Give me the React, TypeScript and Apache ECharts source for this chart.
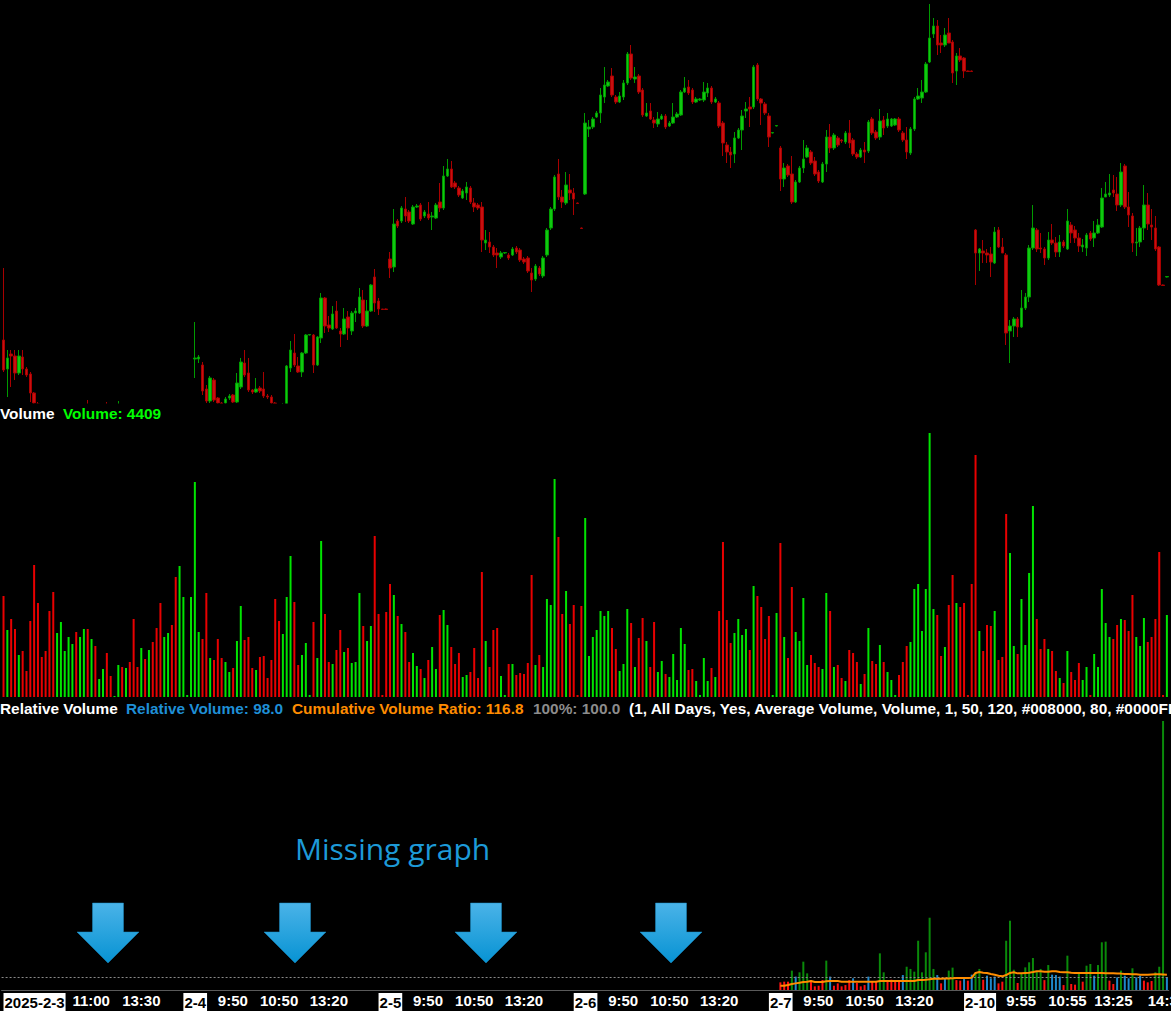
import React, { useEffect, useRef } from "react";
import * as echarts from "echarts";

// ---- price candles [open, close, low, high] (pane units), one per 5-min bar ----
const candles: number[][] = [
  [63,33,31,135],[34,45,6,53],[49,47,16,53],[47,30,23,53],[30,47,28,53],[46,34,28,53],[34,28,26,36],[29,10,1,31],[10,0,-3,11],
  [-1,-10,-14,1],[-10,-15,-18,-8],[-15,-20,-24,-13],[-20,-30,-33,-18],[-30,-42,-46,-28],[-42,-34,-45,-32],[-34,-25,-36,-23],[-25,-20,-27,-18],[-20,-14,-22,-12],[-14,-9,-16,-7],
  [-9,-15,-17,-7],[-15,-10,-17,-8],[-10,-5,-12,-3],[-5,-12,-14,3],[-12,-8,-14,-6],[-8,-14,-16,-6],[-14,-12,-15,-10],[-12,-8,-13,-5],[-5,-10,-12,1],[-10,-13,-15,-8],
  [-13,-12,-13,-11],[-12,-4,-13,2],[-4,-9,-11,-3],[-9,-6,-10,-4],[-6,-10,-12,-5],[-10,-20,-22,-8],[-20,-24,-26,-18],[-24,-18,-25,-16],[-18,-22,-24,-16],[-22,-16,-23,-14],
  [-16,-22,-24,-14],[-22,-30,-32,-20],[-30,-40,-43,-28],[-40,-34,-41,-32],[-34,-28,-35,-26],[-28,-35,-38,-26],[-35,-48,-52,-33],[-48,-36,-50,-34],[-36,-30,-38,-28],[-30,-29.5,-30.5,-29],
  [-29,-5,-30,-3],
  [44,45,25,81],[44,46,40,48],[38,12,8,41],[14,2,0,18],[2,25,0,27],[23,3,1,25],[5,0,-2,6],[0,-3,-5,1],[0,4,-1,6],[5,7,3,9],
  [8,1,0,9],[1,20,0,30],[16,41,14,45],[40,28,26,53],[30,13,11,45],[13,11,9,14],[11,14,10,25],[15,12,10,17],[14,7,5,31],[7,6,4,9],
  [6,0,-2,8],[0,-10,-14,1],[-10,-16,-20,-8],[-16,-2,-18,0],[-4,37,-5,38],[35,53,31,62],[50,38,36,69],[37,31,30,46],[31,50,26,51],[50,68,49,69],
  [68,68.5,67.5,69],[68,38,30,69],[38,66,37,67],[65,105,60,110],[105,77,70,106],[78,75,71,87],[74,89,73,97],[92,75,74,102],[72,69,56,75],[69,84,68,95],
  [86,75,63,92],[72,90,68,92],[90,92,81,95],[90,106,89,115],[103,77,75,113],[77,92,76,103],[92,118,91,119],[126,100,91,134],[102,94,88,105],[94,93.5,93.5,94],
  [94,93.5,93,94.5],[144,135,125,151],[136,179,131,194],[182,177,175,184],[182,195,180,197],[194,187,181,206],[191,182,180,193],[179,196,178,198],[196,197,195,199],[198,184,182,200],
  [187,191,185,193],[189,185,183,201],[186,187,173,191],[185,198,184,200],[201,195,191,220],[195,227,193,237],[227,234,226,244],[234,216,215,242],[220,216,214,222],[215,208,206,217],
  [205,212,204,214],[210,216,203,221],[215,201,199,217],[200,196,191,205],[198,195,193,200],[196,163,151,201],[160,163,153,173],[161,156,150,171],[156,148,146,158],[150,148,135,155],
  [146,150,144,152],[150,150.5,149,151],[148,145,143,150],[148,154,147,156],[155,151,149,157],[153,143,141,155],[144,141,139,146],[145,132,130,147],[130,123,111,135],[124,137,122,139],
  [135,129,127,137],[127,145,125,147],[148,173,146,175],[175,194,173,196],[194,226,192,228],[229,206,203,244],[206,201,195,213],[200,218,198,231],[213,210,203,229],[210,204,188,215],
  [200,199.5,199,200.5],[175,174.5,174,175.5],[209,280,208,290],[274,276,266,283],[276,284,274,286],[286,290,285,292],[290,308,280,315],[306,318,300,336],[317,321,316,323],[327,308,306,335],
  [306,301,299,308],[301,307,300,311],[306,320,303,323],[320,349,318,351],[349,325,323,358],[324,326,320,336],[327,311,309,329],[313,288,286,315],[287,290,286,300],[292,284,283,300],
  [283,280,275,286],[279,284,276,291],[284,287,283,289],[287,276,274,289],[277,280,276,282],[280,286,279,300],[286,289,285,291],[288,311,287,313],[311,315,310,326],[316,310,308,323],
  [313,301,299,315],[301,304,300,306],[303,304,302,305],[303,311,301,321],[310,315,306,320],[315,301,299,317],[301,304,300,306],[300,277,275,302],[280,260,247,282],[258,251,240,261],
  [251,248,235,256],[249,265,240,271],[265,273,264,275],[273,287,253,293],[292,294,285,301],[296,294,276,306],[296,336,294,338],[338,304,302,340],[304,300,278,305],[299,290,288,301],
  [287,266,256,290],[270,270.5,269.5,271],[277,277.5,276.5,278],[255,224,212,257],[224,235,216,240],[237,228,226,239],[229,201,199,247],[201,221,200,223],[221,235,220,237],[235,244,230,263],
  [246,255,245,258],[251,240,238,253],[242,229,227,246],[231,222,220,233],[221,239,220,241],[239,266,231,273],[266,255,250,279],[255,268,253,270],[265,258,256,267],[263,262,260,264],
  [261,270,259,272],[270,260,255,283],[263,249,247,265],[249,246,244,251],[246,253,245,255],[253,251,240,261],[252,281,250,283],[284,270,268,286],[271,265,263,273],[266,282,263,294],
  [283,275,268,287],[277,284,275,290],[277,284,276,285],[278,284,277,285],[284,273,271,286],[270,263,261,272],[263,251,244,276],[250,274,248,276],[274,304,272,306],[304,307,303,315],
  [305,311,300,323],[311,339,310,341],[341,365,340,399],[369,377,365,385],[377,358,348,383],[360,358,350,368],[358,368,356,375],[370,360,360,385],[361,330,320,363],[332,347,318,350],
  [347,343,341,355],[345,332,325,346],[332,331.5,331,332.5],[332,331.5,331,332.5],[173,150,118,174],[150,154,132,155],[152,150,140,163],[150,148,140,154],[149,141,126,156],[140,171,139,176],
  [173,156,155,176],[156,150,150,165],[148,70,58,150],[72,77,40,83],[77,84,66,86],[84,76,66,86],[76,95,75,113],[95,106,93,110],[106,155,101,158],[155,175,153,198],
  [173,154,151,175],[155,154,150,170],[154,145,138,156],[145,163,143,171],[163,160,158,179],[160,151,146,166],[151,161,146,168],[161,157,155,163],[154,182,153,194],[178,170,160,181],
  [173,165,160,177],[165,157,151,170],[156,158,151,164],[155,168,147,170],[170,164,162,172],[165,170,156,182],[170,178,169,184],[176,205,175,215],[206,209,206,221],[208,210,206,229],
  [213,210,206,228],[209,198,192,226],[198,231,196,240],[237,196,194,239],[196,188,176,211],[187,160,151,190],[160,161,147,175],[161,175,156,177],[175,198,163,218],[198,179,173,210],
  [178,176,163,194],[175,154,152,187],[156,118,117,157],[118,117.5,117,118.5],[126,126.5,125.5,127],
];

// ---- volume per bar ----
const volumes: number[] = [
  101,67,78,68,42,46,26,76,132,94, 40,46,86,105,64,75,46,60,53,65, 60,68,68,58,51,18,28,44,21,1, 32,30,29,35,78,30,49,38,47,55, 69,94,60,64,72,120,131,100,2,100,
  215,65,58,104,39,37,58,39,35,25, 29,56,91,57,60,29,27,40,41,19, 37,98,76,63,100,141,95,32,42,54, 2,75,39,156,83,35,33,47,67,45, 49,34,35,104,71,56,71,161,83,2,
  85,113,102,81,73,65,35,44,31,28, 19,37,50,28,82,87,72,50,33,44, 20,22,25,49,19,125,56,30,67,69, 21,2,33,33,22,24,23,34,122,32, 42,30,98,92,218,160,83,106,73,92,
  2,91,179,41,60,67,86,81,86,69, 48,26,33,88,74,30,59,79,56,30, 75,25,36,23,20,43,17,69,53,27, 28,16,2,39,16,29,20,86,155,77, 54,64,78,62,68,47,111,101,90,58,
  81,2,84,154,60,39,110,65,56,99, 32,42,34,30,28,104,86,30,32,19, 16,47,44,35,13,23,69,36,33,52, 35,25,17,2,22,35,51,55,108,113, 66,108,264,88,82,41,50,92,122,94,
  90,94,2,113,242,66,46,72,71,86, 37,40,183,144,51,43,98,52,124,191, 78,48,58,48,46,26,19,14,46,25, 17,34,17,30,2,43,30,108,74,60, 58,72,78,77,66,102,60,51,79,55,
  60,78,145,2,82,
];

// ---- relative volume (%) and cumulative volume ratio (%), from bar REL_START ----
const REL_START = 203;
const relVolume: number[] = [
  59,64,64,149,103,136,218,128,72,28, 33,77,226,103,33,51,28,38,76,90, 54,28,38,103,64,64,282,136,64,79,
  69,64,115,179,162,141,379,136,290,556, 162,115,51,85,149,172,76,72,97,72, 118,136,162,79,110,90,103,51,64,379,
  533,156,54,125,174,213,246,144,162,76, 192,118,115,103,38,264,46,41,128,64, 187,200,110,192,367,372,72,46,97,149,
  110,90,167,97,110,72,59,69,136,179, 2070,98.0,
];
const cumRatio: number[] = [
  33,33,38,46,51,56,62,64,69,62, 62,62,67,69,69,69,64,64,64,64, 64,64,64,64,64,64,69,69,69,69,
  69,69,69,69,69,69,77,77,79,82, 87,87,87,88,89,90,92,92,92,92, 95,131,138,133,131,123,118,110,105,115,
  131,136,128,128,131,133,138,144,144,141, 141,144,144,138,136,136,133,131,131,131, 131,131,131,131,131,128,128,128,126,126,
  123,123,121,121,118,118,118,120,121,121, 119,116.8,
];
const REL_HIGH = 120;
const REL_LOW = 80;

// ---- x-axis tick labels (bar index -> text) ----
const tickIndex = [0, 18, 31, 47, 56, 67, 80, 98, 107, 118, 131, 149, 158, 169, 182, 200, 209, 220, 233, 251, 262, 273, 285, 299];
const tickText = ["2025-2-3", "11:00", "13:30", "2-4", "9:50", "10:50", "13:20", "2-5", "9:50", "10:50", "13:20", "2-6", "9:50", "10:50", "13:20", "2-7", "9:50", "10:50", "13:20", "2-10", "9:55", "10:55", "13:25", "14:35"];

// overlay annotation arrows (centre x)
const arrowCenters = [108, 295, 486, 671];

const categories = candles.map((_, i) => String(i));

const FONT = '"Liberation Sans", Arial, sans-serif';

function buildOption() {
  const volData = volumes.map((v, i) => ({
    value: v,
    itemStyle: { color: candles[i][1] >= candles[i][0] ? "#00e400" : "#e80000" },
  }));
  const relData: any[] = categories.map((_, i) => {
    const k = i - REL_START;
    if (k < 0 || k >= relVolume.length) return "-";
    const v = relVolume[k];
    const color = v > REL_HIGH ? "#0a8a0a" : v >= REL_LOW ? "#1e88cc" : "#ff1010";
    return { value: v, itemStyle: { color } };
  });
  const cumData: any[] = categories.map((_, i) => {
    const k = i - REL_START;
    return k < 0 || k >= cumRatio.length ? "-" : cumRatio[k];
  });

  const gridBase = { left: 1.6, right: 2.2, containLabel: false, outerBoundsMode: "none" };
  const xAxes = [0, 1, 2].map((g) => ({
    type: "category",
    gridIndex: g,
    data: categories,
    boundaryGap: true,
    axisLine: { show: g === 2, lineStyle: { color: "#5a5a5a", width: 1 } },
    axisTick: { show: false },
    splitLine: { show: false },
    axisLabel:
      g === 2
        ? {
            show: true,
            interval: 0,
            align: "left",
            margin: 3,
            color: "#ffffff",
            fontFamily: FONT,
            fontWeight: "bold",
            fontSize: 15,
            hideOverlap: false,
            formatter: (_v: string, idx: number) => {
              const k = tickIndex.indexOf(idx);
              if (k < 0) return "";
              const t = tickText[k];
              return t.indexOf("-") >= 0 ? `{d|${t}}` : t;
            },
            rich: {
              d: {
                backgroundColor: "#ffffff",
                color: "#000000",
                fontFamily: FONT,
                fontWeight: "bold",
                fontSize: 15,
                padding: [2, 1, 2, 1],
              },
            },
          }
        : { show: false },
  }));

  const txt = (text: string, x: number, y: number, fill: string, font = `bold 15.4px ${FONT}`) => ({
    type: "text",
    x,
    y,
    silent: true,
    z: 100,
    style: { text, fill, font, verticalAlign: "middle", align: "left" },
  });

  const arrows = arrowCenters.map((cx) => ({
    type: "polygon",
    silent: true,
    z: 100,
    shape: {
      points: [
        [cx - 15.5, 903],
        [cx + 15.5, 903],
        [cx + 15.5, 932],
        [cx + 31, 932],
        [cx, 963],
        [cx - 31, 932],
        [cx - 15.5, 932],
      ],
    },
    style: {
      fill: new echarts.graphic.LinearGradient(0, 0, 0, 1, [
        { offset: 0, color: "#4ab3e8" },
        { offset: 1, color: "#0793d3" },
      ]),
      stroke: "#1a8cc4",
      lineWidth: 0.5,
    },
  }));

  return {
    animation: false,
    backgroundColor: "#000000",
    grid: [
      { ...gridBase, top: 0, height: 403 },
      { ...gridBase, top: 425, height: 272 },
      { ...gridBase, top: 720, height: 270 },
    ],
    xAxis: xAxes,
    yAxis: [
      { type: "value", gridIndex: 0, min: 0, max: 403, show: false },
      { type: "value", gridIndex: 1, min: 0, max: 272, show: false },
      { type: "value", gridIndex: 2, min: 0, max: 2077, show: false },
    ],
    series: [
      {
        type: "candlestick",
        xAxisIndex: 0,
        yAxisIndex: 0,
        data: candles,
        barWidth: 3,
        clip: true,
        itemStyle: {
          color: "#10c810",
          color0: "#c81010",
          borderColor: "#009a00",
          borderColor0: "#a80000",
          borderWidth: 1,
        },
      },
      {
        type: "bar",
        xAxisIndex: 1,
        yAxisIndex: 1,
        data: volData,
        barWidth: 2,
      },
      {
        type: "bar",
        xAxisIndex: 2,
        yAxisIndex: 2,
        data: relData,
        barWidth: 2,
        clip: true,
        markLine: {
          silent: true,
          symbol: "none",
          label: { show: false },
          lineStyle: { type: [2, 2], color: "#8a8a8a", width: 1 },
          data: [{ yAxis: 100 }],
        },
      },
      {
        type: "line",
        xAxisIndex: 2,
        yAxisIndex: 2,
        data: cumData,
        symbol: "none",
        showSymbol: false,
        z: 5,
        lineStyle: { color: "#ff8c00", width: 2 },
      },
    ],
    graphic: [
      // pane separator: hides price marks that fall below the price pane
      {
        type: "rect",
        silent: true,
        z: 50,
        shape: { x: 0, y: 403.5, width: 1171, height: 21 },
        style: { fill: "#000000" },
      },
      txt("Volume", 0, 413, "#ffffff"),
      txt("Volume: 4409", 63, 413, "#00ff00"),
      txt("Relative Volume", 0, 708, "#ffffff"),
      txt("Relative Volume: 98.0", 126, 708, "#1f8fd6"),
      txt("Cumulative Volume Ratio: 116.8", 292, 708, "#ff8c00"),
      txt("100%: 100.0", 533, 708, "#8c8c8c"),
      txt("(1, All Days, Yes, Average Volume, Volume, 1, 50, 120, #008000, 80, #0000FF", 629, 708, "#ffffff"),
      txt("Missing graph", 295, 848, "#1d9ad8", `30px "Open Sans", "Noto Sans", sans-serif`),
      ...arrows,
    ],
  };
}

export default function App() {
  const ref = useRef<HTMLDivElement>(null);
  useEffect(() => {
    document.body.style.margin = "0";
    document.body.style.background = "#000";
    if (!ref.current) return;
    const chart = echarts.init(ref.current, null, { renderer: "svg" });
    chart.setOption(buildOption() as any);
    return () => chart.dispose();
  }, []);
  return <div ref={ref} style={{ width: 1171, height: 1011, background: "#000", overflow: "hidden" }} />;
}
